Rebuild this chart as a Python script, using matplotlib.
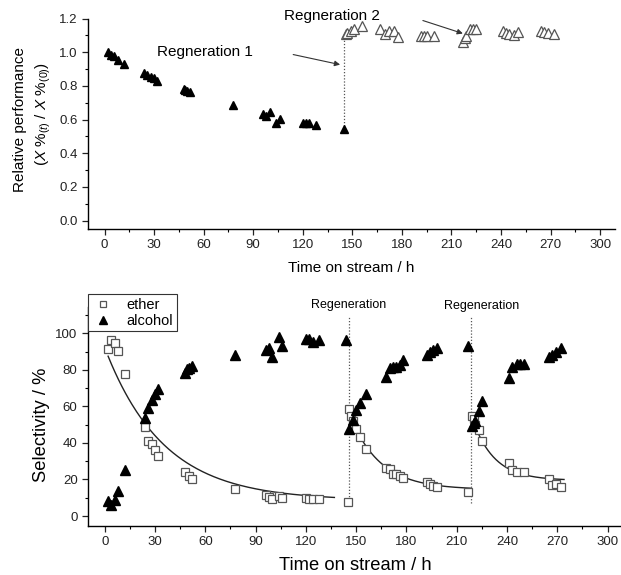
import numpy as np
import matplotlib
matplotlib.use("Agg")
import matplotlib.pyplot as plt
from matplotlib.ticker import MultipleLocator

plt.rcParams['font.family'] = ['Liberation Sans', 'DejaVu Sans']
plt.rcParams['mathtext.fontset'] = 'custom'
plt.rcParams['mathtext.rm'] = 'Liberation Sans'
plt.rcParams['mathtext.it'] = 'Liberation Sans:italic'

# ---------------- data: top panel ----------------
perf_fresh_t = [2, 4, 6, 8, 12, 24, 26, 28, 30, 32, 48, 49, 50, 52, 78, 96, 98, 100, 104, 106,
                120, 122, 124, 128, 145]
perf_fresh_y = [1.00, 0.985, 0.975, 0.955, 0.93, 0.877, 0.866, 0.855, 0.844, 0.831,
                0.78, 0.775, 0.77, 0.762, 0.688, 0.633, 0.62, 0.645, 0.58, 0.605,
                0.58, 0.58, 0.577, 0.567, 0.543]
perf_regen_t = [146, 147, 149, 151, 156, 167, 170, 172, 175, 177.5, 191.5, 193.5, 195.5, 199.5,
                217, 218, 219, 221, 223, 225, 241, 243, 245, 248, 250, 264, 266, 268.5, 272]
perf_regen_y = [1.105, 1.115, 1.125, 1.135, 1.155, 1.138, 1.105, 1.125, 1.125, 1.09,
                1.098, 1.098, 1.098, 1.095, 1.061, 1.085, 1.097, 1.138, 1.138, 1.138,
                1.125, 1.115, 1.105, 1.10, 1.12, 1.125, 1.12, 1.115, 1.105]

# ---------------- data: bottom panel ----------------
ether_t = [2, 4, 6, 8, 12, 24, 26, 28, 30, 32, 48, 50, 52, 78, 96, 98, 100, 104, 106,
           120, 122, 124, 128, 145,
           146, 147, 148, 150, 152, 156, 168, 170, 172, 174, 176, 178, 192, 194, 196, 198, 217,
           219, 220, 221, 223, 225, 241, 243, 246, 250, 265, 267, 269, 272]
ether_y = [91.5, 96.5, 94.5, 90.5, 77.5, 48.5, 41, 39.5, 36, 33, 24, 22, 20, 15, 11.5, 10.5, 9.5, 11, 10,
           10, 9.5, 9.5, 9.5, 7.5,
           58.5, 55, 52, 47.5, 43, 36.5, 26.5, 25.5, 23, 23, 22, 21, 18.5, 17.5, 16.5, 16, 13,
           55, 53, 50, 47, 41, 29, 25, 24, 24, 20, 17, 17.5, 16]
alcohol_t = [2, 4, 6, 8, 12, 24, 26, 28, 30, 32, 48, 49, 50, 52, 78, 96, 98, 100, 104, 106,
             120, 122, 124, 128, 144,
             146, 148, 150, 152, 156, 168, 170, 172, 174, 176, 178, 192, 194, 196, 198, 217,
             219, 220, 221, 223, 225, 241, 243, 246, 248, 250, 265, 267, 269, 272]
alcohol_y = [8, 6, 9, 13.5, 25, 53.5, 59, 63.5, 67, 69.5, 78.5, 80.5, 81, 82, 88, 91, 92, 87, 98, 93,
             97, 97, 95.5, 96.5, 96.5,
             47.5, 52.5, 58, 62, 67, 76, 81, 81.5, 81.5, 82.5, 85.5, 88, 90, 91, 92, 93,
             49.5, 51, 52, 57.5, 63, 75.5, 81.5, 83.5, 83.5, 83, 87, 88, 90, 92]

# exponential-decay fit lines (y0, A, t_start, tau, t_end)
fit_y0 = [8.5, 14.5, 19.5]
fit_A = [79, 40, 34.5]
fit_tstart = [2, 146.5, 219]
fit_tau = [35, 18, 13]
fit_tend = [137, 218, 274]

regen_top = 145
regen_bottom = [146, 218.3]

# ---------------- figure ----------------
W, H = 621, 575
fig = plt.figure(figsize=(W / 100, H / 100), dpi=100)

def frac(x0, y0, x1, y1):
    return [x0 / W, 1 - y1 / H, (x1 - x0) / W, (y1 - y0) / H]

def style(ax, fs):
    for s in ['top', 'right']:
        ax.spines[s].set_visible(False)
    for s in ['left', 'bottom']:
        ax.spines[s].set_linewidth(1.0)
    ax.tick_params(which='major', direction='out', length=4, width=0.9, labelsize=fs, colors='#222222')
    ax.tick_params(which='minor', direction='out', length=2.5, width=0.8)

# Top panel
ax1 = fig.add_axes(frac(88, 18.5, 615, 229))
style(ax1, 9.5)
ax1.set_xlim(-10, 309)
ax1.set_ylim(-0.05, 1.2)
ax1.xaxis.set_major_locator(MultipleLocator(30))
ax1.xaxis.set_minor_locator(MultipleLocator(15))
ax1.yaxis.set_major_locator(MultipleLocator(0.2))
ax1.yaxis.set_minor_locator(MultipleLocator(0.1))
ax1.yaxis.set_major_formatter(plt.FuncFormatter(lambda v, p: f"{v:.1f}"))
ax1.plot([regen_top, regen_top], [0.545, 1.10], ls=(0, (1, 1.5)), color='#555555', lw=0.9, zorder=1)
ax1.plot(perf_fresh_t, perf_fresh_y, ls='none', marker='^', ms=6, color='black', zorder=3)
ax1.plot(perf_regen_t, perf_regen_y, ls='none', marker='^', ms=6.5, mfc='white', mec='#555555', mew=0.9, zorder=3)
ax1.annotate('', xy=(142.6, 0.926), xytext=(114.2, 0.986),
             arrowprops=dict(arrowstyle='-|>', color='#333333', lw=0.8, mutation_scale=8, shrinkA=0, shrinkB=0))
ax1.annotate('', xy=(216.9, 1.111), xytext=(192.7, 1.188), annotation_clip=False,
             arrowprops=dict(arrowstyle='-|>', color='#333333', lw=0.8, mutation_scale=8, shrinkA=0, shrinkB=0))
ax1.text(61, 1.004, 'Regneration 1', fontsize=11, ha='center', va='center')
ax1.text(137.8, 1.214, 'Regneration 2', fontsize=11, ha='center', va='center', clip_on=False)
fig.text(351 / W, 1 - 268 / H, 'Time on stream / h', fontsize=11, ha='center', va='center')
fig.text(20 / W, 1 - 119.5 / H, 'Relative performance', fontsize=11, rotation=90, ha='center', va='center')
fig.text(43 / W, 1 - 113.5 / H, r'($X$ %$_{(t)}$ / $X$ %$_{(0)}$)', fontsize=11, rotation=90,
         ha='center', va='center')

# Bottom panel
ax2 = fig.add_axes(frac(88, 306.7, 621, 525.7))
style(ax2, 9.5)
ax2.set_xlim(-10, 308)
ax2.set_ylim(-5.3, 114.6)
ax2.xaxis.set_major_locator(MultipleLocator(30))
ax2.xaxis.set_minor_locator(MultipleLocator(15))
ax2.yaxis.set_major_locator(MultipleLocator(20))
ax2.yaxis.set_minor_locator(MultipleLocator(10))
for xr in regen_bottom:
    ax2.plot([xr, xr], [7, 109], ls=(0, (1, 1.5)), color='#555555', lw=0.9, zorder=1)
for y0, A, ts, tau, te in zip(fit_y0, fit_A, fit_tstart, fit_tau, fit_tend):
    tt = np.linspace(ts, te, 200)
    ax2.plot(tt, y0 + A * np.exp(-(tt - ts) / tau), color='#222222', lw=1.0, zorder=2)
ax2.plot(ether_t, ether_y, ls='none', marker='s', ms=5.5, mfc='white', mec='#555555', mew=0.9,
         zorder=3, label='ether')
ax2.plot(alcohol_t, alcohol_y, ls='none', marker='^', ms=7, color='black', zorder=4, label='alcohol')
ax2.text(145.7, 115.5, 'Regeneration', fontsize=9, ha='center', va='center', clip_on=False)
ax2.text(224.9, 115.0, 'Regeneration', fontsize=9, ha='center', va='center', clip_on=False)
leg = ax2.legend(loc='upper left', bbox_to_anchor=(0, 1 + 12.7 / 219), borderaxespad=0,
                 fontsize=10.5, frameon=True, fancybox=False, edgecolor='#333333', framealpha=1,
                 handlelength=1.6, handletextpad=0.8, borderpad=0.25, labelspacing=0.15, markerscale=0.75)
leg.get_frame().set_linewidth(0.8)
fig.text(355.5 / W, 1 - 565 / H, 'Time on stream / h', fontsize=13.2, ha='center', va='center')
fig.text(41.7 / W, 1 - 425 / H, 'Selectivity / %', fontsize=13.2, rotation=90, ha='center', va='center')

fig.savefig('out.png', dpi=100)
